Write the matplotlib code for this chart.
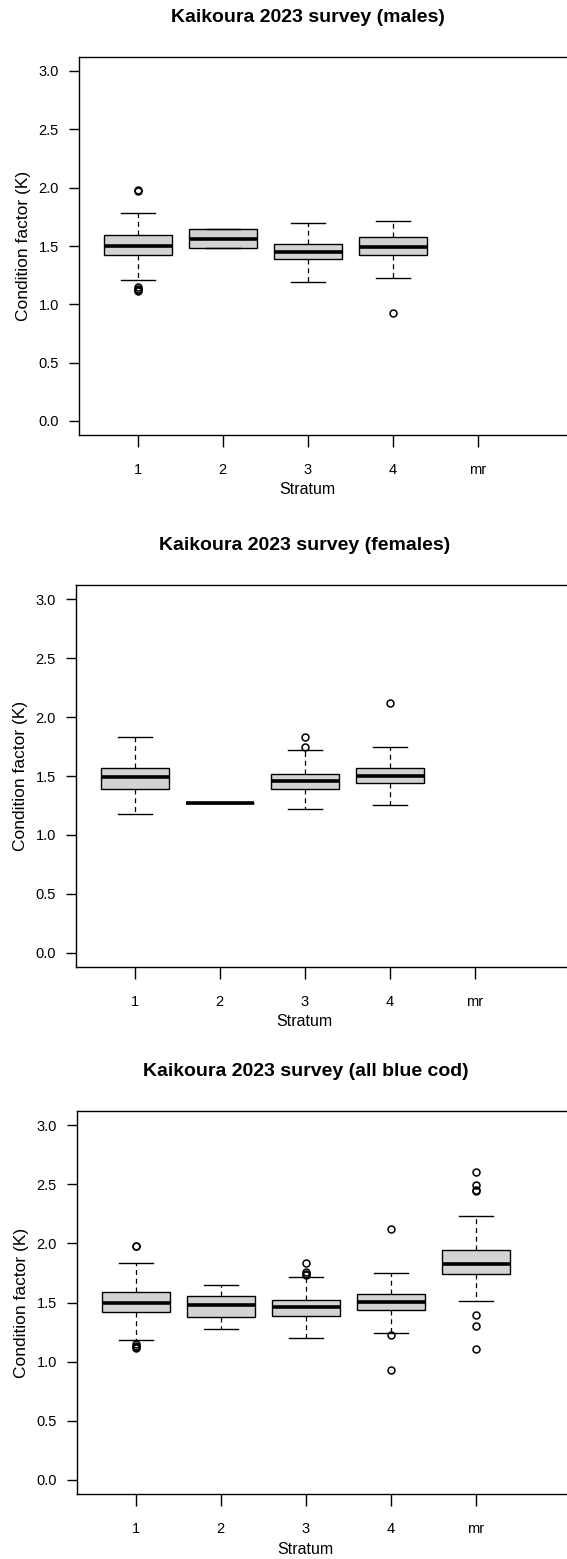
import matplotlib
matplotlib.use("Agg")
import matplotlib.pyplot as plt
import matplotlib.transforms as mtransforms

plt.rcParams['font.family'] = ['Liberation Sans', 'DejaVu Sans']

strata = ['1', '2', '3', '4', 'mr']

# males
m_q1 = [1.42, 1.48, 1.386, 1.42]
m_med = [1.50, 1.56, 1.451, 1.489]
m_q3 = [1.594, 1.643, 1.517, 1.574]
m_lo = [1.206, 1.48, 1.194, 1.226]
m_hi = [1.786, 1.643, 1.70, 1.717]
m_fliers = [[1.974, 1.978, 1.145, 1.135, 1.125, 1.118], [], [], [0.923]]

# females
f_q1 = [1.387, 1.274, 1.387, 1.444]
f_med = [1.494, 1.274, 1.455, 1.50]
f_q3 = [1.568, 1.274, 1.52, 1.568]
f_lo = [1.177, 1.274, 1.217, 1.254]
f_hi = [1.834, 1.274, 1.721, 1.749]
f_fliers = [[], [], [1.829, 1.744], [2.123]]

# all blue cod
a_q1 = [1.418, 1.381, 1.387, 1.438, 1.74]
a_med = [1.494, 1.483, 1.458, 1.506, 1.828]
a_q3 = [1.588, 1.559, 1.523, 1.568, 1.941]
a_lo = [1.181, 1.274, 1.198, 1.246, 1.514]
a_hi = [1.836, 1.647, 1.712, 1.751, 2.234]
a_fliers = [[1.98, 1.975, 1.147, 1.13, 1.12, 1.113], [],
            [1.833, 1.754, 1.74, 1.732], [2.124, 1.229, 0.929],
            [2.60, 2.497, 2.455, 2.446, 1.393, 1.297, 1.107]]

panels = [
    ("Kaikoura 2023 survey (males)", m_q1, m_med, m_q3, m_lo, m_hi, m_fliers, 57, 435, 79),
    ("Kaikoura 2023 survey (females)", f_q1, f_med, f_q3, f_lo, f_hi, f_fliers, 585, 967, 76),
    ("Kaikoura 2023 survey (all blue cod)", a_q1, a_med, a_q3, a_lo, a_hi, a_fliers, 1111, 1494, 77),
]

W, H = 567, 1559
fig = plt.figure(figsize=(W / 100, H / 100), dpi=100)

x0, x1 = 0.31, 6.5
px_per_unit = 85.0

for title, q1, med, q3, lo, hi, fl, top, bot, left in panels:
    width = (x1 - x0) * px_per_unit
    h = bot - top
    ax = fig.add_axes([left / W, 1 - bot / H, width / W, h / H])
    stats = []
    for i in range(len(q1)):
        stats.append(dict(q1=q1[i], med=med[i], q3=q3[i], whislo=lo[i],
                          whishi=hi[i], fliers=fl[i]))
    ax.bxp(stats, positions=range(1, len(q1) + 1), widths=0.8, capwidths=0.4,
           patch_artist=True, showfliers=True,
           boxprops=dict(facecolor='#d3d3d3', edgecolor='black', linewidth=1),
           medianprops=dict(color='black', linewidth=2.6, solid_capstyle='butt'),
           whiskerprops=dict(color='black', linewidth=0.9, linestyle=(0, (4, 3))),
           capprops=dict(color='black', linewidth=1),
           flierprops=dict(marker='o', markerfacecolor='none', markeredgecolor='black',
                           markersize=5, markeredgewidth=1.1))
    ax.set_xlim(x0, x1)
    ax.set_ylim(-0.12, 3.12)
    ax.set_xticks(range(1, 6))
    ax.set_xticklabels(strata)
    ax.set_yticks([0, 0.5, 1.0, 1.5, 2.0, 2.5, 3.0])
    ax.set_yticklabels(['0.0', '0.5', '1.0', '1.5', '2.0', '2.5', '3.0'])
    ax.tick_params(axis='y', length=7.5, width=1, pad=7, labelsize=10.5)
    ax.tick_params(axis='x', length=8.5, width=1, pad=12, labelsize=10.5)
    for s in ax.spines.values():
        s.set_linewidth(1)
    ax.set_ylabel('Condition factor (K)', fontsize=12.5, labelpad=5)
    xfrac = (3 - x0) / (x1 - x0)
    ax.set_xlabel('Stratum', fontsize=11.5)
    ax.xaxis.set_label_coords(xfrac, -55 / h)
    ax.xaxis.label.set_va('center')
    trans = mtransforms.blended_transform_factory(ax.transData, ax.transAxes)
    ax.text(3.0, 1 + 40 / h, title, transform=trans,
            ha='center', va='center', fontsize=14, fontweight='bold')

fig.savefig('out.png', dpi=100)
